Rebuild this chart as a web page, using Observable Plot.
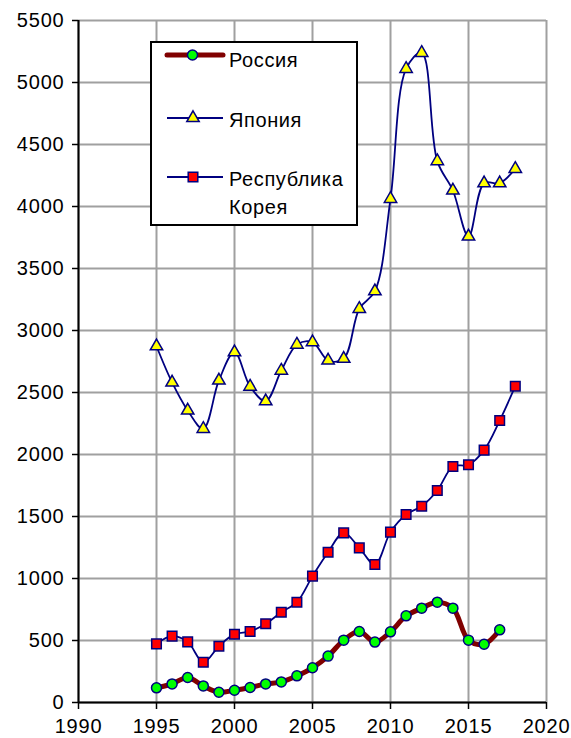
<!DOCTYPE html>
<html>
<head>
<meta charset="utf-8">
<script src="https://cdn.jsdelivr.net/npm/d3@7"></script>
<script src="https://cdn.jsdelivr.net/npm/@observablehq/plot@0.6"></script>
<style>
  html, body { margin: 0; padding: 0; background: white; }
  #wrap { position: relative; width: 571px; height: 738px; }
  #legend { position: absolute; left: 150px; top: 41px; }
</style>
</head>
<body>
<div id="wrap"></div>
<script>
const xTicks = [1990, 1995, 2000, 2005, 2010, 2015, 2020];
const yTicks = [0, 500, 1000, 1500, 2000, 2500, 3000, 3500, 4000, 4500, 5000, 5500];

const seriesNames = ["Россия", "Япония", "Республика Корея"];

const russiaYears = d3.range(1995, 2018);
const russiaValues = [118, 150, 202, 134, 83, 99, 121, 150, 166, 215, 280, 374, 503, 573, 487, 570, 699, 761, 809, 761, 503, 470, 586];

const japanYears = d3.range(1995, 2019);
const japanValues = [2873, 2581, 2355, 2207, 2597, 2825, 2548, 2430, 2677, 2886, 2906, 2758, 2772, 3175, 3317, 4062, 5110, 5239, 4366, 4129, 3758, 4188, 4188, 4304];

const koreaYears = d3.range(1995, 2019);
const koreaValues = [473, 535, 489, 325, 454, 551, 573, 635, 728, 809, 1019, 1212, 1368, 1247, 1113, 1374, 1516, 1583, 1710, 1903, 1917, 2035, 2274, 2551];

const russia = russiaYears.map((y, i) => ({year: y, value: russiaValues[i]}));
const japan = japanYears.map((y, i) => ({year: y, value: japanValues[i]}));
const korea = koreaYears.map((y, i) => ({year: y, value: koreaValues[i]}));

const navy = "#000080";
const grid = "#a0a0a0";

const chart = Plot.plot({
  width: 571,
  height: 738,
  marginLeft: 78,
  marginRight: 25,
  marginTop: 20,
  marginBottom: 36,
  x: {domain: [1990, 2020]},
  y: {domain: [0, 5500]},
  style: {
    fontFamily: "Arial, 'Liberation Sans', sans-serif",
    fontSize: "20px",
    color: "black",
    background: "white",
    letterSpacing: "0.8px"
  },
  marks: [
    Plot.gridX(xTicks, {stroke: grid, strokeOpacity: 1, strokeWidth: 2}),
    Plot.gridY(yTicks, {stroke: grid, strokeOpacity: 1, strokeWidth: 2}),
    Plot.axisY(yTicks, {tickSize: 6, tickPadding: 8, tickFormat: d => String(d), stroke: "black", strokeWidth: 1.5, label: null}),
    Plot.axisX(xTicks, {tickSize: 7, tickPadding: 9, tickFormat: d => String(d), stroke: "black", strokeWidth: 1.5, label: null}),
    Plot.ruleX([1990], {stroke: "black", strokeWidth: 2}),
    Plot.ruleY([0], {stroke: "black", strokeWidth: 2}),
    Plot.line(russia, {x: "year", y: "value", stroke: "#800000", strokeWidth: 5, curve: "catmull-rom", strokeLinejoin: "round", strokeLinecap: "round"}),
    Plot.dot(russia, {x: "year", y: "value", symbol: "circle", r: 5, fill: "#00ff00", stroke: navy, strokeWidth: 1.5}),
    Plot.line(japan, {x: "year", y: "value", stroke: navy, strokeWidth: 1.8, curve: "catmull-rom"}),
    Plot.dot(japan, {x: "year", y: "value", symbol: "triangle", r: 4.6, fill: "#ffff00", stroke: navy, strokeWidth: 1.5}),
    Plot.line(korea, {x: "year", y: "value", stroke: navy, strokeWidth: 1.8, curve: "catmull-rom"}),
    Plot.dot(korea, {x: "year", y: "value", symbol: "square", r: 5.4, fill: "#ff0000", stroke: navy, strokeWidth: 1.5})
  ]
});

const wrap = document.getElementById("wrap");
wrap.appendChild(chart);

// Legend (inside the plot area, as in the original)
const sym = d3.symbol();
const lg = d3.select(wrap).append("svg")
  .attr("id", "legend")
  .attr("width", 209).attr("height", 186)
  .style("font-family", "Arial, 'Liberation Sans', sans-serif")
  .style("font-size", "20px")
  .style("letter-spacing", "0.6px");
lg.append("rect").attr("x", 1).attr("y", 1).attr("width", 206).attr("height", 183)
  .attr("fill", "white").attr("stroke", "black").attr("stroke-width", 2);

// Russia
lg.append("line").attr("x1", 17).attr("x2", 73).attr("y1", 14).attr("y2", 14)
  .attr("stroke", "#800000").attr("stroke-width", 5).attr("stroke-linecap", "round");
lg.append("path").attr("d", sym.type(d3.symbolCircle).size(Math.PI * 25)())
  .attr("transform", "translate(42.5,14)").attr("fill", "#00ff00").attr("stroke", navy).attr("stroke-width", 1.5);
lg.append("text").attr("x", 79).attr("y", 25.5).text(seriesNames[0]);

// Japan
lg.append("line").attr("x1", 17).attr("x2", 73).attr("y1", 77).attr("y2", 77)
  .attr("stroke", navy).attr("stroke-width", 1.8);
lg.append("path").attr("d", sym.type(d3.symbolTriangle).size(Math.PI * 4.6 * 4.6)())
  .attr("transform", "translate(43,77)").attr("fill", "#ffff00").attr("stroke", navy).attr("stroke-width", 1.5);
lg.append("text").attr("x", 79).attr("y", 85.5).text(seriesNames[1]);

// Korea
lg.append("line").attr("x1", 17).attr("x2", 73).attr("y1", 136).attr("y2", 136)
  .attr("stroke", navy).attr("stroke-width", 1.8);
lg.append("path").attr("d", sym.type(d3.symbolSquare).size(Math.PI * 5.4 * 5.4)())
  .attr("transform", "translate(43,136)").attr("fill", "#ff0000").attr("stroke", navy).attr("stroke-width", 1.5);
const kt = lg.append("text").attr("x", 79).attr("y", 145);
kt.append("tspan").attr("x", 79).text("Республика");
kt.append("tspan").attr("x", 79).attr("dy", 27.5).text("Корея");
</script>
</body>
</html>
